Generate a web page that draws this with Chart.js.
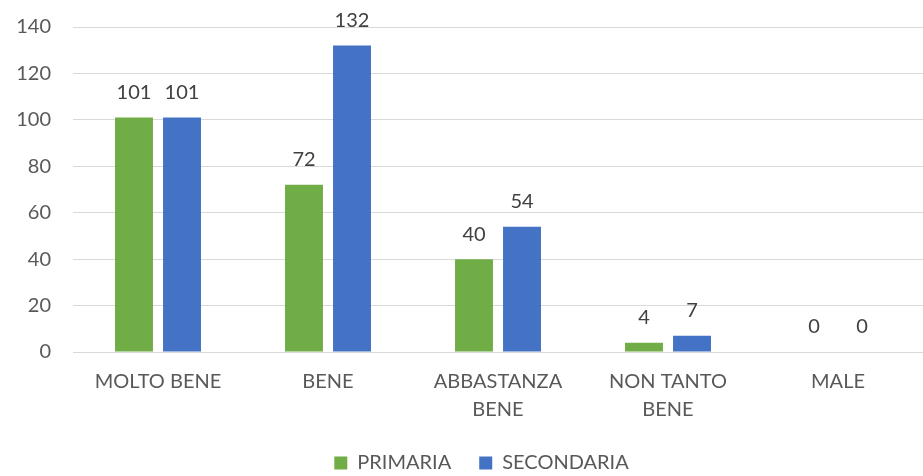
<!DOCTYPE html>
<html>
<head>
<meta charset="utf-8">
<script src="https://cdn.jsdelivr.net/npm/chart.js@4.4.0/dist/chart.umd.min.js"></script>
<style>
  html, body { margin: 0; padding: 0; background: #fff; }
  #wrap { width: 923px; height: 476px; }
</style>
</head>
<body>
<div id="wrap"><canvas id="barChart"></canvas></div>
<script>
// categories and values
var categories = ["MOLTO BENE", "BENE", ["ABBASTANZA", "BENE"], ["NON TANTO", "BENE"], "MALE"];
var primaria = [101, 72, 40, 4, 0];
var secondaria = [101, 132, 54, 7, 0];
var yTicks = [0, 20, 40, 60, 80, 100, 120, 140];

var fontFamily = "Lato, 'Open Sans', sans-serif";

// draw the value over each bar (no datalabels plugin offline)
var valueLabels = {
    id: "valueLabels",
    afterDatasetsDraw: function (chart) {
        var ctx = chart.ctx;
        ctx.save();
        ctx.font = "20px " + fontFamily;
        ctx.fillStyle = "#404040";
        ctx.textAlign = "center";
        ctx.textBaseline = "middle";
        chart.data.datasets.forEach(function (ds, i) {
            chart.getDatasetMeta(i).data.forEach(function (bar, j) {
                ctx.fillText(ds.data[j], bar.x, bar.y - 25);
            });
        });
        ctx.restore();
    }
};

// keep the wide gap between legend items but a fixed legend height,
// and nudge the legend a little right like the original
var legendHeight = {
    id: "legendHeight",
    afterInit: function (chart) {
        var lg = chart.legend;
        var fit = lg.fit;
        lg.fit = function () {
            fit.call(this);
            this.height = 51;
        };
    },
    afterLayout: function (chart) {
        chart.legend.left += 20;
        chart.legend.right += 20;
    }
};

var barChartCanvas = document.getElementById("barChart").getContext("2d");

var barChart = new Chart(barChartCanvas, {
    type: "bar",
    data: {
        labels: categories,
        datasets: [{
            label: "PRIMARIA",
            data: primaria,
            backgroundColor: "#70AD47",
            categoryPercentage: 0.565,
            barPercentage: 0.79
        }, {
            label: "SECONDARIA",
            data: secondaria,
            backgroundColor: "#4472C4",
            categoryPercentage: 0.565,
            barPercentage: 0.79
        }]
    },
    options: {
        responsive: true,
        maintainAspectRatio: false,
        animation: false,
        layout: { padding: { top: 27, right: 0, bottom: 0, left: 0 } },
        plugins: {
            legend: {
                position: "bottom",
                labels: {
                    boxWidth: 13,
                    boxHeight: 13,
                    padding: 28,
                    color: "#595959",
                    font: { family: fontFamily, size: 20 }
                }
            },
            tooltip: { enabled: false }
        },
        scales: {
            x: {
                grid: { display: false, drawTicks: false },
                border: { display: false },
                afterFit: function (scale) { scale.height = 73; },
                ticks: {
                    color: "#595959",
                    padding: 16,
                    maxRotation: 0,
                    font: { family: fontFamily, size: 20, lineHeight: 1.4 }
                }
            },
            y: {
                min: 0,
                max: 140,
                afterBuildTicks: function (scale) {
                    scale.ticks = yTicks.map(function (v) { return { value: v }; });
                },
                afterFit: function (scale) {
                    scale.width = 73;
                    scale.paddingTop = 0;
                    scale.paddingBottom = 0;
                },
                grid: { color: "#d9d9d9", drawTicks: false },
                border: { display: false },
                ticks: {
                    color: "#595959",
                    padding: 22,
                    font: { family: fontFamily, size: 20 }
                }
            }
        }
    },
    plugins: [valueLabels, legendHeight]
});
</script>
</body>
</html>
